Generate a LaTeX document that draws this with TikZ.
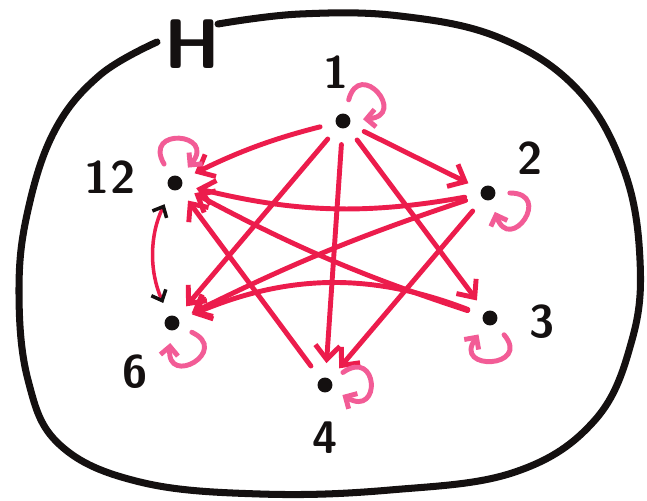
\documentclass[tikz,border=0pt]{standalone}
\usepackage{tikz}
\usetikzlibrary{arrows.meta,calc}
\definecolor{hdred}{HTML}{EC1C4C}
\definecolor{hdpink}{HTML}{F25C96}
\definecolor{hdblack}{HTML}{141010}

\begin{document}
\begin{tikzpicture}[x=0.02cm, y=-0.02cm,
    elt/.style={circle, fill=hdblack, inner sep=0pt, minimum size=8.5pt},
    lab/.style={font=\sffamily\bfseries\fontsize{26}{26}\selectfont, text=hdblack},
    rel/.style={hdred, line width=2.8pt, line cap=round,
      -{Straight Barb[length=8pt,width=14pt]}, shorten <=9pt, shorten >=8pt},
    refl/.style={hdpink, line width=2.8pt, line cap=round,
      -{Straight Barb[length=5pt,width=10pt]}, min distance=1.15cm, shorten <=8pt, shorten >=7pt}]
  \useasboundingbox (0,0) rectangle (647,501);
  % the set H
  \draw[hdblack, line width=4pt, line cap=round] plot[smooth, tension=0.65] coordinates {
    (157,42) (100,75) (55,130) (28,210) (19,290) (28,380) (60,445) (140,482) (260,494)
    (390,490) (515,472) (595,420) (632,340) (640,260) (624,170) (578,90) (500,38)
    (400,16) (300,14) (218,24)};
  \node[lab, font=\sffamily\bfseries\fontsize{40}{40}\selectfont] (hlab) at (192,44) {H};
  % elements
  \node[elt] (n1) at (343,121) {};
  \node[elt] (n2) at (488,193) {};
  \node[elt] (n3) at (490,318) {};
  \node[elt] (n4) at (325,385) {};
  \node[elt] (n6) at (172,323) {};
  \node[elt] (n12) at (175,183) {};
  \node[lab] (l1) at (336,72) {1};
  \node[lab] (l2) at (530,158) {2};
  \node[lab] (l3) at (542,322) {3};
  \node[lab] (l4) at (325,438) {4};
  \node[lab] (l6) at (135,372) {6};
  \node[lab] (l12) at (110,177) {12};
  % divisibility
  \foreach \a/\b in {1/2,1/6,1/4,1/3,2/4,4/12}
    \draw[rel] (n\a) -- (n\b);
  \draw[rel] (n1) to[bend right=6] (n12);
  \draw[rel] (n2) to[bend left=12] (n12);
  \draw[rel] (n2) to[bend right=4] (n6);
  \draw[rel] (n3) to[bend left=5] (n12);
  \draw[rel] (n3) to[bend right=22] (n6);
  \draw[rel, line width=2pt, {Straight Barb[length=5pt,width=9pt,color=hdblack]}-{Straight Barb[length=5pt,width=9pt,color=hdblack]}]
    (n12) to[bend right=25] (n6);
  % reflexivity
  \foreach \n/\o/\i in {1/75/5, 12/120/50, 2/0/-70, 3/-50/-125, 4/35/-30, 6/-25/-95}
    \draw[refl] (n\n) to[out=\o, in=\i] (n\n);
\end{tikzpicture}
\end{document}
